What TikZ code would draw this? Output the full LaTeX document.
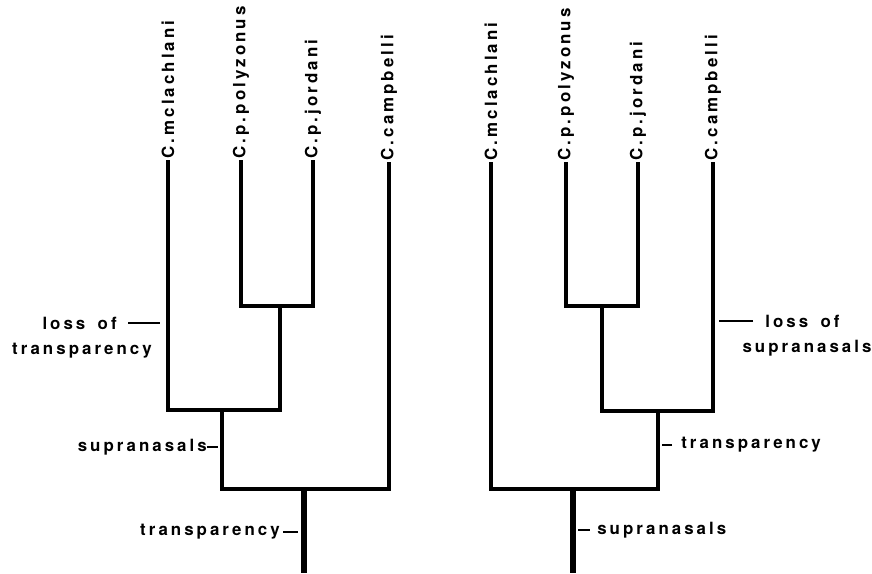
\documentclass[tikz,border=0pt]{standalone}
\usepackage{fontspec}
\setmainfont{TeX Gyre Heros}
\newfontfamily\cladefont{TeX Gyre Heros}[LetterSpace=18, WordSpace=1.6]
\usepackage{tikz}

\begin{document}
\begin{tikzpicture}[x=0.025cm, y=-0.025cm,
		taxon/.style={rotate=90, anchor=west, inner sep=1pt, font=\cladefont\bfseries\fontsize{12}{14}\selectfont},
		trait/.style={inner sep=0pt, font=\cladefont\bfseries\fontsize{12}{14}\selectfont},
		branch/.style={line width=3.2pt, line join=miter},
		stem/.style={line width=3.8pt},
		traitline/.style={line width=1.2pt}]
		
		\useasboundingbox (0,0) rectangle (872,573);
		
		% Left tree: the taxa
		\node (Lmcl) [taxon] at (168,160) {C.mclachlani};
		\node (Lpol) [taxon] at (241,160) {C.p.polyzonus};
		\node (Ljor) [taxon] at (313,160) {C.p.jordani};
		\node (Lcam) [taxon] at (389,162) {C.campbelli};
		
		% Left tree: the branch points
		\coordinate (Lj1) at (280,306);
		\coordinate (Lj2) at (222,410);
		\coordinate (Lj3) at (304,489);
		\coordinate (Lroot) at (304,573);
		
		% Left tree: the branches
		\draw[branch] (Lpol.west) |- (Lj1) -| (Ljor.west);
		\draw[branch] (Lmcl.west) |- (Lj2) -| (Lj1);
		\draw[branch] (Lj2) |- (Lj3) -| (Lcam.west);
		\draw[stem] (Lj3) -- (Lroot);
		
		% Left tree: the characters
		\node (LlossA) [trait, anchor=east] at (117,323) {loss of};
		\node (LlossB) [trait] at (82,351) {transparency};
		\node (Lsup) [trait, anchor=east] at (207,447) {supranasals};
		\node (Ltra) [trait, anchor=east] at (280,532) {transparency};
		
		\draw[traitline, shorten <=8pt, shorten >=5.7pt] (LlossA.east) -- (LlossA.east -| Lmcl.west);
		\draw[traitline, shorten <=0pt, shorten >=2.8pt] (Lsup.east) -- (Lsup.east -| Lj2);
		\draw[traitline, shorten <=2.2pt, shorten >=4.3pt] (Ltra.east) -- (Ltra.east -| Lj3);
		
		% Right tree: the taxa
		\node (Rmcl) [taxon] at (491,162) {C.mclachlani};
		\node (Rpol) [taxon] at (566,162) {C.p.polyzonus};
		\node (Rjor) [taxon] at (638,162) {C.p.jordani};
		\node (Rcam) [taxon] at (713,162) {C.campbelli};
		
		% Right tree: the branch points
		\coordinate (Rj1) at (602,306);
		\coordinate (Rj2) at (658,411);
		\coordinate (Rj3) at (573,489);
		\coordinate (Rroot) at (573,573);
		
		% Right tree: the branches
		\draw[branch] (Rpol.west) |- (Rj1) -| (Rjor.west);
		\draw[branch] (Rj1) |- (Rj2) -| (Rcam.west);
		\draw[branch] (Rmcl.west) |- (Rj3) -| (Rj2);
		\draw[stem] (Rj3) -- (Rroot);
		
		% Right tree: the characters
		\node (RlossA) [trait, anchor=west] at (765,321) {loss of};
		\node (RlossB) [trait] at (807,348) {supranasals};
		\node (Rtra) [trait, anchor=west] at (681,445) {transparency};
		\node (Rsup) [trait, anchor=west] at (597,530) {supranasals};
		
		\draw[traitline, shorten <=8.5pt, shorten >=4.3pt] (RlossA.west) -- (RlossA.west -| Rcam.west);
		\draw[traitline, shorten <=6.4pt, shorten >=2.8pt] (Rtra.west) -- (Rtra.west -| Rj2);
		\draw[traitline, shorten <=5pt, shorten >=3.6pt] (Rsup.west) -- (Rsup.west -| Rj3);
	\end{tikzpicture}
\end{document}
